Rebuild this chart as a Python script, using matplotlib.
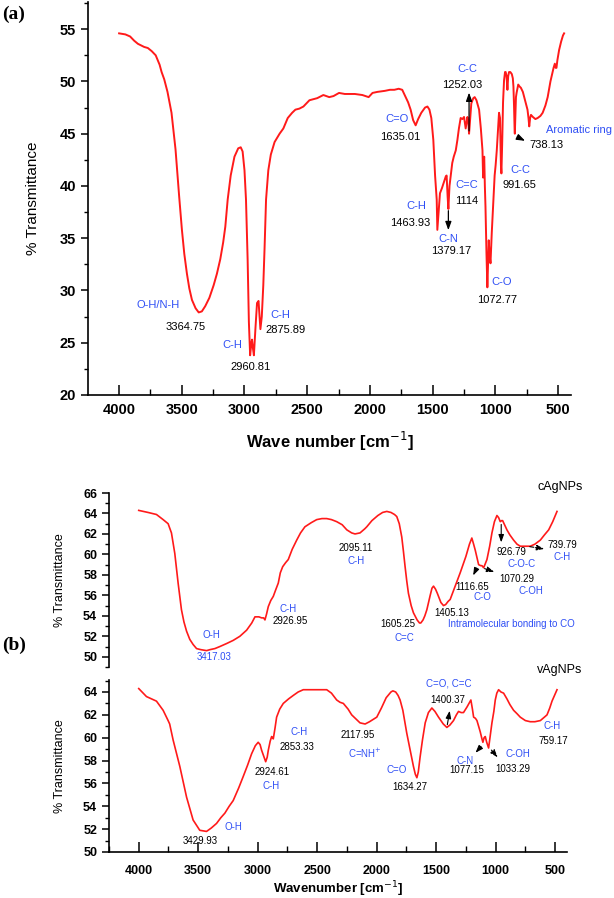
import matplotlib
matplotlib.use("Agg")
import matplotlib.pyplot as plt
from matplotlib.ticker import MultipleLocator

# ---------------- data ----------------
# Panel (a)
wn_a = [4000, 3950, 3912, 3880, 3850, 3800, 3771, 3740, 3708, 3677, 3661, 3640, 3614, 3582, 3550,
        3521, 3499, 3480, 3459, 3440, 3419, 3390, 3365, 3340, 3313, 3280, 3246, 3220, 3193, 3170,
        3153, 3134, 3110, 3080, 3050, 3030, 3015, 3000, 2988, 2975, 2965, 2955, 2945, 2940, 2933,
        2925, 2912, 2900, 2888, 2880, 2873, 2862, 2850, 2840, 2828, 2810, 2790, 2760, 2720, 2690,
        2655, 2620, 2594, 2562, 2530, 2482, 2420, 2371, 2324, 2290, 2246, 2200, 2160, 2120, 2060,
        2010, 1979, 1940, 1880, 1840, 1805, 1770, 1742, 1715, 1695, 1675, 1655, 1635, 1615, 1590,
        1560, 1541, 1525, 1510, 1494, 1480, 1467, 1462, 1452, 1441, 1425, 1409, 1395, 1388, 1380,
        1374, 1365, 1343, 1331, 1315, 1302, 1290, 1276, 1262, 1249, 1236, 1222, 1215, 1209, 1200,
        1191, 1175, 1164, 1150, 1129, 1115, 1102, 1097, 1093, 1088, 1083, 1078, 1070, 1063, 1058,
        1052, 1046, 1038, 1028, 1015, 1005, 997, 988, 980, 970, 962, 955, 951, 945, 938,
        930, 922, 917, 910, 903, 897, 890, 880, 868, 860, 855, 850, 846, 844, 840,
        835, 830, 817, 805, 796, 780, 769, 755, 743, 735, 729, 722, 715, 700, 680,
        662, 640, 622, 600, 582, 560, 545, 535, 525, 518, 512, 505, 491, 475, 460, 451]
t_a = [54.6, 54.5, 54.3, 53.9, 53.6, 53.3, 53.2, 52.9, 52.5, 51.6, 50.9, 50.2, 49.0, 47.0, 43.5,
       39.0, 35.8, 33.5, 31.6, 30.2, 29.1, 28.3, 27.9, 28.0, 28.5, 29.3, 30.5, 31.6, 33.0, 34.6,
       36.1, 38.7, 41.0, 42.8, 43.6, 43.7, 43.3, 41.5, 38.7, 33.0, 27.0, 23.8, 25.0, 25.3, 24.5,
       23.8, 26.5, 28.8, 29.0, 27.5, 26.3, 27.5, 30.5, 34.0, 38.7, 41.5, 43.0, 44.2, 45.0, 45.5,
       46.5, 47.0, 47.3, 47.4, 47.6, 48.2, 48.4, 48.7, 48.5, 48.6, 48.9, 48.8, 48.8, 48.8, 48.7,
       48.5, 48.9, 49.0, 49.1, 49.2, 49.2, 49.3, 49.2, 48.5, 48.0, 47.3, 46.3, 45.8, 46.4, 47.0,
       47.5, 47.6, 47.3, 46.5, 44.4, 41.0, 38.7, 35.8, 37.5, 39.3, 39.8, 40.4, 40.9, 41.0, 39.0,
       37.8, 40.0, 42.2, 42.8, 43.4, 44.4, 45.5, 46.5, 46.4, 46.6, 45.5, 46.6, 46.2, 45.0, 46.5,
       47.9, 48.4, 48.5, 48.2, 47.3, 45.5, 43.4, 40.8, 42.5, 42.8, 40.0, 38.0, 33.5, 30.3, 32.5,
       34.8, 33.5, 32.6, 35.5, 38.7, 41.0, 42.0, 43.4, 45.0, 47.0, 46.5, 42.0, 41.2, 44.0, 48.0,
       50.1, 50.9, 50.9, 50.5, 49.2, 50.5, 50.9, 50.9, 50.7, 50.3, 49.5, 47.5, 45.5, 45.0, 46.5,
       48.5, 48.9, 49.7, 49.5, 49.4, 49.0, 48.5, 47.9, 47.3, 46.5, 45.7, 46.5, 46.8, 46.6, 46.4,
       46.5, 46.7, 47.0, 47.7, 48.5, 50.0, 50.8, 51.3, 51.7, 51.3, 51.3, 52.0, 53.0, 53.8, 54.4, 54.6]

# Panel (b) top: cAgNPs
wn_c = [4000, 3922, 3851, 3795, 3753, 3725, 3697, 3669, 3641, 3620, 3598, 3571, 3543, 3514, 3480,
        3430, 3400, 3360, 3318, 3260, 3206, 3150, 3093, 3050, 3023, 2990, 2967, 2950, 2939, 2925,
        2911, 2890, 2869, 2850, 2827, 2810, 2790, 2765, 2743, 2710, 2672, 2640, 2603, 2550, 2504,
        2460, 2420, 2380, 2336, 2290, 2251, 2210, 2182, 2140, 2100, 2083, 2040, 1990, 1950, 1915,
        1880, 1850, 1831, 1810, 1789, 1775, 1761, 1747, 1733, 1710, 1691, 1660, 1640, 1629, 1610,
        1595, 1578, 1550, 1535, 1522, 1505, 1490, 1480, 1460, 1438, 1420, 1400, 1382, 1340, 1298,
        1250, 1220, 1200, 1185, 1171, 1155, 1143, 1125, 1115, 1101, 1090, 1073, 1050, 1031, 1010,
        989, 975, 961, 950, 941, 925, 905, 880, 849, 820, 793, 750, 709, 670, 624,
        590, 554, 520, 484]
t_c = [64.3, 64.1, 63.9, 63.4, 63.0, 62.1, 60.1, 57.2, 54.6, 53.4, 52.5, 51.7, 51.2, 50.8, 50.7,
       50.6, 50.7, 50.8, 51.0, 51.3, 51.6, 52.0, 52.6, 53.3, 53.9, 53.9, 53.8, 53.8, 53.6, 54.2,
       54.9, 55.5, 55.9, 56.5, 57.2, 58.2, 58.8, 59.2, 59.5, 60.5, 61.4, 62.1, 62.7, 63.1, 63.4,
       63.5, 63.5, 63.4, 63.2, 62.9, 62.4, 62.1, 62.0, 62.1, 62.5, 62.7, 63.3, 63.8, 64.1, 64.2,
       64.1, 63.9, 63.7, 63.0, 61.7, 60.3, 58.8, 57.4, 56.2, 55.0, 54.3, 53.6, 53.3, 53.3, 53.6,
       54.0, 54.6, 56.0, 56.7, 56.9, 56.6, 56.2, 55.9, 55.3, 55.0, 55.1, 55.4, 55.6, 56.9, 58.2,
       59.8, 61.0, 61.6, 61.0, 60.4, 59.6, 59.0, 58.9, 58.9, 58.7, 59.0, 59.5, 60.8, 62.1, 63.2,
       63.8, 63.6, 63.2, 63.3, 63.3, 62.9, 62.4, 61.9, 61.4, 61.0, 60.8, 60.8, 60.8, 61.0, 61.4,
       61.9, 62.4, 63.2, 64.2]

# Panel (b) bottom: vAgNPs
wn_v = [4000, 3935, 3851, 3795, 3753, 3740, 3711, 3655, 3598, 3543, 3487, 3430, 3390, 3346, 3310,
        3276, 3240, 3206, 3160, 3122, 3085, 3051, 3020, 2996, 2980, 2967, 2950, 2933, 2920, 2911,
        2895, 2883, 2875, 2869, 2855, 2841, 2815, 2785, 2740, 2701, 2660, 2617, 2560, 2504, 2460,
        2420, 2380, 2336, 2308, 2280, 2240, 2210, 2170, 2140, 2097, 2060, 1999, 1960, 1920, 1880,
        1864, 1840, 1820, 1803, 1780, 1747, 1720, 1691, 1675, 1662, 1650, 1635, 1615, 1592, 1565,
        1536, 1510, 1480, 1440, 1410, 1385, 1354, 1330, 1312, 1290, 1270, 1240, 1208, 1195, 1185,
        1170, 1157, 1140, 1129, 1115, 1107, 1097, 1087, 1075, 1059, 1045, 1031, 1015, 1003, 990,
        975, 955, 933, 905, 880, 849, 820, 793, 750, 709, 670, 624, 590, 568, 545,
        526, 505, 484]
t_v = [64.3, 63.6, 63.2, 62.4, 61.5, 61.2, 59.8, 57.5, 54.8, 52.8, 51.9, 51.8, 52.1, 52.5, 53.0,
       53.4, 54.0, 54.5, 55.6, 56.6, 57.6, 58.6, 59.3, 59.6, 59.4, 58.9, 58.4, 57.9, 58.3, 58.9,
       59.7, 60.1, 60.0, 59.9, 60.8, 61.8, 62.5, 63.0, 63.4, 63.7, 64.0, 64.2, 64.2, 64.2, 64.2,
       64.2, 63.9, 63.3, 63.1, 63.0, 62.5, 62.0, 61.6, 61.3, 61.2, 61.4, 61.8, 62.6, 63.5, 64.0,
       64.1, 64.0, 63.7, 63.3, 62.4, 60.4, 59.0, 57.5, 56.8, 56.5, 57.0, 58.3, 59.8, 61.3, 62.2,
       62.6, 62.3, 61.8, 61.2, 60.9, 61.1, 61.5, 62.0, 62.3, 62.2, 62.2, 62.7, 63.3, 62.5, 61.8,
       61.7, 61.5, 60.9, 60.5, 59.9, 59.6, 60.0, 60.1, 59.6, 59.1, 60.2, 61.3, 62.3, 63.3, 63.9,
       64.2, 64.0, 63.9, 63.4, 62.9, 62.4, 62.1, 61.8, 61.5, 61.4, 61.4, 61.5, 61.8, 62.0, 62.6,
       63.2, 63.7, 64.2]

# annotations: (text, x, y, colour)
BL = "#2f4ff5"
BK = "black"
ann_a = [("O-H/N-H", 3686, 28.6, BL), ("3364.75", 3473, 26.5, BK),
         ("C-H", 3100, 24.8, BL), ("2960.81", 2953, 22.7, BK),
         ("C-H", 2714, 27.7, BL), ("2875.89", 2674, 26.2, BK),
         ("C=O", 1781, 46.4, BL), ("1635.01", 1755, 44.7, BK),
         ("C-C", 1222, 51.2, BL), ("1252.03", 1267, 49.7, BK),
         ("Aromatic ring", 330, 45.4, BL), ("738.13", 588, 43.9, BK),
         ("C-C", 802, 41.5, BL), ("991.65", 810, 40.1, BK),
         ("C=C", 1230, 40.1, BL), ("1114", 1230, 38.6, BK),
         ("C-H", 1627, 38.1, BL), ("1463.93", 1675, 36.5, BK),
         ("C-N", 1374, 34.9, BL), ("1379.17", 1355, 33.8, BK),
         ("C-O", 948, 30.8, BL), ("1072.77", 982, 29.1, BK)]
arr_a = [((1209, 45.0), (1209, 49.2)), ((844, 44.8), (742, 44.2)), ((1374, 37.9), (1374, 35.5))]

ann_c = [("2095.11", 2176, 60.6, BK), ("C-H", 2176, 59.4, BL),
         ("1605.25", 1825, 53.2, BK), ("C=C", 1767, 51.8, BL),
         ("1405.13", 1368, 54.3, BK), ("Intramolecular bonding to CO", 871, 53.2, BL),
         ("1116.65", 1199, 56.8, BK), ("C-O", 1107, 55.8, BL),
         ("1070.29", 826, 57.6, BK), ("C-OH", 703, 56.4, BL),
         ("926.79", 871, 60.2, BK), ("C-O-C", 778, 59.1, BL),
         ("739.79", 442, 60.9, BK), ("C-H", 442, 59.7, BL),
         ("O-H", 3388, 52.1, BL), ("3417.03", 3369, 50.0, BL),
         ("C-H", 2743, 54.7, BL), ("2926.95", 2723, 53.5, BK)]
arr_c = [((1149, 58.9), (1199, 57.7), "-"), ((1115, 58.7), (989, 58.2), "--"),
         ((953, 63.2), (953, 60.9), "-"), ((736, 60.8), (568, 60.5), "--")]

ann_v = [("C=O, C=C", 1396, 64.7, BL), ("1400.37", 1401, 63.3, BK),
         ("2117.95", 2162, 60.2, BK), ("C=NH$^{+}$", 2097, 58.6, BL),
         ("C=O", 1831, 57.2, BL), ("1634.27", 1719, 55.7, BK),
         ("C-N", 1256, 58.0, BL), ("1077.15", 1241, 57.2, BK),
         ("C-OH", 816, 58.6, BL), ("1033.29", 854, 57.3, BK),
         ("C-H", 521, 61.0, BL), ("759.17", 517, 59.7, BK),
         ("C-H", 2653, 60.5, BL), ("2853.33", 2672, 59.2, BK),
         ("2924.61", 2878, 57.0, BK), ("C-H", 2883, 55.8, BL),
         ("O-H", 3206, 52.2, BL), ("3429.93", 3485, 51.0, BK)]
arr_v = [((1410, 60.9), (1382, 62.6), "-"), ((1107, 59.4), (1185, 58.5), "-"),
         ((1051, 59.1), (967, 58.1), "--")]

xticks = [4000, 3500, 3000, 2500, 2000, 1500, 1000, 500]

# ---------------- figure ----------------
W, H = 614, 898
fig = plt.figure(figsize=(W / 100, H / 100), dpi=100)
SANS = ["Liberation Sans", "DejaVu Sans"]
SERIF = ["Liberation Serif", "DejaVu Serif"]
RED = "#ff1a1a"


def px_axes(l, t, r, b):
    return fig.add_axes([l / W, 1 - b / H, (r - l) / W, (b - t) / H])


def style(ax, fs, xvisible=True, xpad=6):
    for s in ["top", "right"]:
        ax.spines[s].set_visible(False)
    ax.spines["left"].set_linewidth(1.2)
    ax.spines["bottom"].set_linewidth(1.2)
    ax.tick_params(axis="y", which="major", direction="out", length=5, width=1.1, labelsize=fs)
    ax.tick_params(axis="y", which="minor", direction="out", length=3, width=1.0)
    if xvisible:
        ax.tick_params(axis="x", which="major", direction="in", length=7, width=1.1, labelsize=fs, pad=xpad)
        ax.tick_params(axis="x", which="minor", direction="in", length=4, width=1.0)
    else:
        ax.spines["bottom"].set_visible(False)
        ax.tick_params(axis="x", which="both", bottom=False, labelbottom=False)
    for lab in ax.get_xticklabels() + ax.get_yticklabels():
        lab.set_fontweight("bold")
        lab.set_family(SANS)


def put_text(ax, items, fs):
    for txt, x, y, c in items:
        ax.text(x, y, txt, color=c, fontsize=fs, ha="center", va="center", family=SANS, clip_on=False)


# ---- panel (a)
axa = px_axes(88, 2, 571, 395)
axa.plot(wn_a, t_a, color=RED, lw=1.4)
axa.set_xlim(4248, 396)
axa.set_ylim(20, 57.6)
axa.set_xticks(xticks)
axa.xaxis.set_minor_locator(MultipleLocator(250))
axa.set_yticks([20, 25, 30, 35, 40, 45, 50, 55])
axa.yaxis.set_minor_locator(MultipleLocator(2.5))
style(axa, 10.5)
axa.set_xlabel("Wave number [cm$^{-1}$]", fontsize=12, fontweight="bold", family=SANS, labelpad=9)
axa.set_ylabel("% Transmittance", fontsize=11, family=SANS, labelpad=14)
put_text(axa, ann_a, 8)
for (x0, y0), (x1, y1) in arr_a:
    axa.annotate("", xy=(x1, y1), xytext=(x0, y0),
                 arrowprops=dict(arrowstyle="-|>,head_length=0.5,head_width=0.18", color="black", lw=0.9))
fig.text(2 / W, 1 - 14 / H, "(a)", fontsize=14, fontweight="bold", family=SERIF, va="center", ha="left")

# ---- panel (b) top
axc = px_axes(109, 493, 567, 667)
axc.plot(wn_c, t_c, color=RED, lw=1.2)
axc.set_xlim(4250, 400)
axc.set_ylim(49, 66)
axc.set_yticks(list(range(50, 67, 2)))
axc.yaxis.set_minor_locator(MultipleLocator(1))
style(axc, 9, xvisible=False)
axc.set_ylabel("% Transmittance", fontsize=9, family=SANS, labelpad=12)
put_text(axc, ann_c, 7)
axc.text(456, 66.6, "cAgNPs", fontsize=9, ha="center", va="center", family=SANS, clip_on=False)
for (x0, y0), (x1, y1), ls in arr_c:
    axc.annotate("", xy=(x1, y1), xytext=(x0, y0),
                 arrowprops=dict(arrowstyle="-|>,head_length=0.45,head_width=0.16", color="black",
                                 lw=0.8, linestyle=ls))

# ---- panel (b) bottom
axv = px_axes(109, 680, 567, 852)
axv.plot(wn_v, t_v, color=RED, lw=1.2)
axv.set_xlim(4250, 400)
axv.set_ylim(50, 65.05)
axv.set_xticks(xticks)
axv.xaxis.set_minor_locator(MultipleLocator(250))
axv.set_yticks(list(range(50, 65, 2)))
axv.yaxis.set_minor_locator(MultipleLocator(1))
style(axv, 9, xpad=9)
axv.set_xlabel("Wavenumber [cm$^{-1}$]", fontsize=9.5, fontweight="bold", family=SANS, labelpad=2)
axv.set_ylabel("% Transmittance", fontsize=9, family=SANS, labelpad=12)
put_text(axv, ann_v, 7)
axv.text(462, 65.9, "vAgNPs", fontsize=9, ha="center", va="center", family=SANS, clip_on=False)
for (x0, y0), (x1, y1), ls in arr_v:
    axv.annotate("", xy=(x1, y1), xytext=(x0, y0),
                 arrowprops=dict(arrowstyle="-|>,head_length=0.45,head_width=0.16", color="black",
                                 lw=0.8, linestyle=ls))
fig.text(2 / W, 1 - 645 / H, "(b)", fontsize=14, fontweight="bold", family=SERIF, va="center", ha="left")

fig.savefig("out.png", dpi=100)
